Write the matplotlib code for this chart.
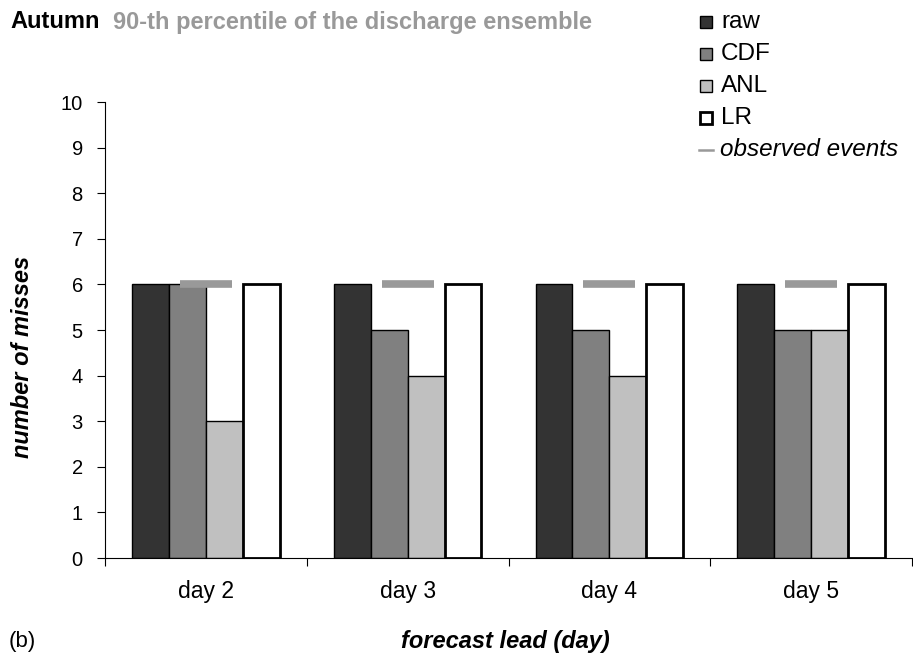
import matplotlib.pyplot as plt
import numpy as np
from matplotlib.lines import Line2D
from matplotlib.patches import Rectangle

plt.rcParams["font.family"] = ["Liberation Sans", "DejaVu Sans"]

days = ["day 2", "day 3", "day 4", "day 5"]
raw = [6, 6, 6, 6]
cdf = [6, 5, 5, 5]
anl = [3, 4, 4, 5]
lr = [6, 6, 6, 6]
observed = [6, 6, 6, 6]

series = [
    ("raw", raw, "#333333", 1.0),
    ("CDF", cdf, "#808080", 1.0),
    ("ANL", anl, "#c0c0c0", 1.0),
    ("LR", lr, "#ffffff", 2.0),
]

W, H = 913, 657
fig = plt.figure(figsize=(W / 100, H / 100), dpi=100)
ax = fig.add_axes([105 / W, 99 / H, 807 / W, 456 / H])

x = np.arange(len(days))
width = 0.183
for i, (name, values, color, lw) in enumerate(series):
    ax.bar(x + (i - 1.5) * width, values, width, color=color,
           edgecolor="black", linewidth=lw, zorder=2)

# observed event counts as short grey dashes over each group
ax.plot(x, observed, linestyle="none", marker="_", markersize=37,
        markeredgewidth=5.5, color="#999999", zorder=3)

ax.set_xlim(-0.5, len(days) - 0.5)
ax.set_ylim(0, 10)
ax.set_yticks(range(0, 11))
ax.tick_params(axis="y", labelsize=14.5, length=6, pad=10, direction="out")

# boundaries carry the tick marks, centres carry the labels
ax.set_xticks(np.arange(-0.5, len(days)), labels=[""] * (len(days) + 1))
ax.set_xticks(x, labels=days, minor=True)
ax.tick_params(axis="x", which="major", length=6, direction="out")
ax.tick_params(axis="x", which="minor", length=0, labelsize=16.5, pad=16)

for side in ("top", "right"):
    ax.spines[side].set_visible(False)

ax.set_ylabel("number of misses", fontsize=17, fontweight="bold",
              fontstyle="italic")
ax.yaxis.set_label_coords(-0.088, 0.44)
ax.set_xlabel("forecast lead (day)", fontsize=17, fontweight="bold",
              fontstyle="italic")
ax.xaxis.set_label_coords(0.496, -0.158)


def fy(py):
    return 1 - py / H


fig.text(10 / W, fy(22), "Autumn", fontsize=17, fontweight="bold",
         va="center")
fig.text(113 / W, fy(22), "90-th percentile of the discharge ensemble",
         fontsize=17, fontweight="bold", color="#999999", va="center")
fig.text(9 / W, fy(642), "(b)", fontsize=16, va="center")

# legend drawn entry by entry down the right-hand side
row = 32
for i, (name, _, color, lw) in enumerate(series):
    cy = 22 + i * row
    fig.add_artist(Rectangle((700 / W, fy(cy + 6)), 12 / W, 12 / H,
                             transform=fig.transFigure, facecolor=color,
                             edgecolor="black", linewidth=lw))
    fig.text(721 / W, fy(cy), name, fontsize=17.5, va="center")
cy = 22 + 4 * row
fig.add_artist(Line2D([699 / W, 713 / W], [fy(cy), fy(cy)],
                      transform=fig.transFigure, color="#999999",
                      linewidth=1.8))
fig.text(720 / W, fy(cy), "observed events", fontsize=17.5,
         fontstyle="italic", va="center")

fig.savefig("out.png", dpi=100)
